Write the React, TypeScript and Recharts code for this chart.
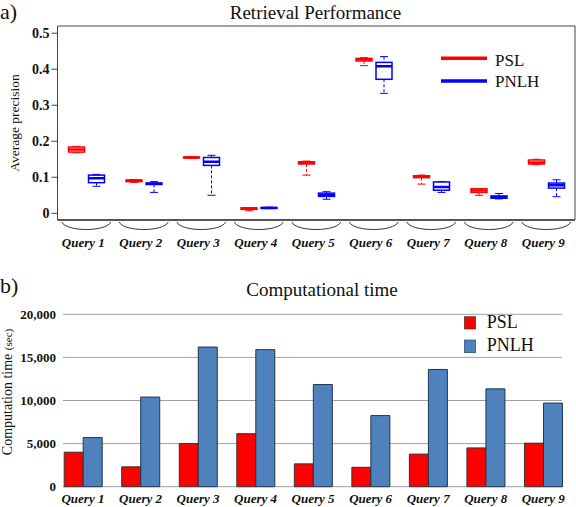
import React from 'react';
import {
  ComposedChart, BarChart, Bar, XAxis, YAxis, CartesianGrid, Legend,
} from 'recharts';

const queries = ['Query 1', 'Query 2', 'Query 3', 'Query 4', 'Query 5', 'Query 6', 'Query 7', 'Query 8', 'Query 9'];

// Retrieval performance (average precision) box-plot statistics
const pslMin = [0.168, 0.086, 0.153, 0.007, 0.106, 0.410, 0.081, 0.050, 0.135];
const pslQ1 = [0.170, 0.088, 0.154, 0.011, 0.137, 0.423, 0.099, 0.058, 0.137];
const pslMed = [0.177, 0.091, 0.155, 0.013, 0.140, 0.427, 0.102, 0.063, 0.141];
const pslQ3 = [0.184, 0.092, 0.156, 0.015, 0.143, 0.430, 0.104, 0.068, 0.148];
const pslMax = [0.186, 0.093, 0.157, 0.016, 0.145, 0.432, 0.106, 0.069, 0.150];

const pnlhMin = [0.075, 0.058, 0.050, 0.013, 0.039, 0.333, 0.058, 0.040, 0.046];
const pnlhQ1 = [0.085, 0.080, 0.133, 0.014, 0.047, 0.372, 0.064, 0.042, 0.070];
const pnlhMed = [0.097, 0.082, 0.143, 0.015, 0.051, 0.408, 0.073, 0.045, 0.078];
const pnlhQ3 = [0.106, 0.084, 0.155, 0.016, 0.056, 0.419, 0.087, 0.048, 0.084];
const pnlhMax = [0.108, 0.088, 0.161, 0.017, 0.060, 0.435, 0.088, 0.055, 0.093];

const precisionTicks = [0, 0.1, 0.2, 0.3, 0.4, 0.5];

// Computational time (sec)
const pslTime = [4000, 2300, 5000, 6150, 2650, 2250, 3780, 4500, 5050];
const pnlhTime = [5700, 10400, 16200, 15900, 11850, 8250, 13600, 11350, 9700];
const timeTicks = [0, 5000, 10000, 15000, 20000];

const FONT = '"Liberation Serif", "Times New Roman", serif';
const RED = '#FF0000';
const BLUE = '#0000FF';
const BAR_RED = '#FF0000';
const BAR_BLUE = '#4F81BD';

const boxRows = queries.map((q, i) => ({
  q,
  psl: [pslMin[i], pslQ1[i], pslMed[i], pslQ3[i], pslMax[i]],
  pnlh: [pnlhMin[i], pnlhQ1[i], pnlhMed[i], pnlhQ3[i], pnlhMax[i]],
}));

const timeRows = queries.map((q, i) => ({ q, psl: pslTime[i], pnlh: pnlhTime[i] }));

function BoxShape(props: any) {
  const { x, y, width, height, stats, color } = props;
  if (x == null || y == null || !stats) return null;
  const [mn, q1, md, q3, mx] = stats;
  const top = Math.min(y, y + height);
  const h = Math.abs(height);
  const py = (v: number) => (mx === mn ? top : top + (h * (mx - v)) / (mx - mn));
  const cx = x + width / 2;
  const cap = 4;
  return (
    <g>
      <line x1={cx} x2={cx} y1={py(mx)} y2={py(q3)} stroke={color} strokeWidth={1} strokeDasharray="3 2" />
      <line x1={cx} x2={cx} y1={py(q1)} y2={py(mn)} stroke={color} strokeWidth={1} strokeDasharray="3 2" />
      <line x1={cx - cap} x2={cx + cap} y1={py(mx)} y2={py(mx)} stroke={color} strokeWidth={1} />
      <line x1={cx - cap} x2={cx + cap} y1={py(mn)} y2={py(mn)} stroke={color} strokeWidth={1} />
      <rect x={x} y={py(q3)} width={width} height={Math.max(py(q1) - py(q3), 0.5)} fill="#fff" stroke={color} strokeWidth={1.5} />
      <line x1={x} x2={x + width} y1={py(md)} y2={py(md)} stroke={color} strokeWidth={2.5} />
    </g>
  );
}

function ArcTick(props: any) {
  const { x, y, payload } = props;
  return (
    <g>
      <path
        d={`M ${x - 24.5} ${y + 2} C ${x - 20} ${y + 12} ${x + 20} ${y + 12} ${x + 24.5} ${y + 2}`}
        fill="none"
        stroke="#333"
        strokeWidth={1}
      />
      <text x={x - 3} y={y + 26.5} textAnchor="middle" fontFamily={FONT} fontSize={13} fontWeight="bold" fontStyle="italic" fill="#111">
        {payload.value}
      </text>
    </g>
  );
}

function TopLegend() {
  return (
    <svg width={130} height={50} style={{ display: 'block' }}>
      <line x1={3} x2={49} y1={13.3} y2={13.3} stroke={RED} strokeWidth={3.5} />
      <text x={57} y={20.7} fontFamily={FONT} fontSize={17} fill="#111">PSL</text>
      <line x1={3} x2={49} y1={36} y2={36} stroke={BLUE} strokeWidth={3.5} />
      <text x={57} y={42.3} fontFamily={FONT} fontSize={17} fill="#111">PNLH</text>
    </svg>
  );
}

function BottomLegend() {
  return (
    <svg width={100} height={50} style={{ display: 'block' }}>
      <rect x={4.3} y={6.7} width={11.4} height={12.3} fill={BAR_RED} stroke="#333" strokeWidth={0.6} />
      <text x={26.7} y={17.7} fontFamily={FONT} fontSize={18} fill="#111">PSL</text>
      <rect x={4.3} y={30} width={11.4} height={12.7} fill={BAR_BLUE} stroke="#2a3f5f" strokeWidth={0.6} />
      <text x={26.7} y={40.7} fontFamily={FONT} fontSize={18} fill="#111">PNLH</text>
    </svg>
  );
}

const fmtPrecision = (v: number) => (v === 0 ? '0' : v.toFixed(1));
const fmtTime = (v: number) => v.toLocaleString('en-US');

export default function App() {
  return (
    <div style={{ position: 'absolute', left: 0, top: 0, width: 576, height: 507, background: '#fff', fontFamily: FONT }}>
      <div style={{ position: 'absolute', left: 0, top: 0 }}>
        <ComposedChart width={576} height={255} data={boxRows} margin={{ top: 26, right: 1, bottom: 0, left: 0 }} barSize={16} barGap={4}>
          <CartesianGrid
            stroke="#444"
            strokeWidth={1}
            horizontalCoordinatesGenerator={({ offset }: any) => [offset.top]}
            verticalCoordinatesGenerator={({ offset }: any) => [offset.left + offset.width]}
          />
          <XAxis
            dataKey="q"
            height={35}
            axisLine={{ stroke: '#555', strokeWidth: 2 }}
            tickLine={false}
            tickSize={0}
            tickMargin={0}
            interval={0}
            tick={(p: any) => <ArcTick {...p} />}
          />
          <YAxis
            width={57.5}
            domain={[-0.0186, 0.52]}
            ticks={precisionTicks}
            allowDataOverflow
            tickFormatter={fmtPrecision}
            axisLine={{ stroke: '#444' }}
            tickLine={{ stroke: '#444' }}
            tickSize={6}
            tickMargin={2}
            tick={{ fontFamily: FONT, fontSize: 14, fontWeight: 'bold', fill: '#111' }}
          />
          <Legend
            layout="vertical"
            align="center"
            verticalAlign="middle"
            wrapperStyle={{ left: 438, top: 45, width: 130, height: 50 }}
            content={() => <TopLegend />}
          />
          <Bar
            name="PSL"
            dataKey={(d: any) => [d.psl[0], d.psl[4]]}
            isAnimationActive={false}
            fill={RED}
            shape={(p: any) => <BoxShape {...p} stats={p.payload.psl} color={RED} />}
          />
          <Bar
            name="PNLH"
            dataKey={(d: any) => [d.pnlh[0], d.pnlh[4]]}
            isAnimationActive={false}
            fill={BLUE}
            shape={(p: any) => <BoxShape {...p} stats={p.payload.pnlh} color={BLUE} />}
          />
        </ComposedChart>
      </div>

      <div style={{ position: 'absolute', left: 0, top: 300 }}>
        <BarChart width={576} height={207} data={timeRows} margin={{ top: 14.3, right: 14, bottom: 0, left: 0 }} barSize={19} barGap={0}>
          <CartesianGrid vertical={false} stroke="#a0a0a0" />
          <XAxis
            dataKey="q"
            height={20.3}
            axisLine={false}
            tickLine={false}
            tickSize={0}
            tickMargin={7}
            interval={0}
            padding={{ left: -8.8, right: -10 }}
            tick={{ fontFamily: FONT, fontSize: 13, fontWeight: 'bold', fontStyle: 'italic', fill: '#111' }}
          />
          <YAxis
            width={63}
            domain={[0, 20000]}
            ticks={timeTicks}
            tickFormatter={fmtTime}
            axisLine={false}
            tickLine={false}
            tickSize={0}
            tickMargin={7}
            tick={{ fontFamily: FONT, fontSize: 13, fontWeight: 'bold', fill: '#111' }}
          />
          <Legend
            layout="vertical"
            align="center"
            verticalAlign="middle"
            wrapperStyle={{ left: 460, top: 10, width: 100, height: 50 }}
            content={() => <BottomLegend />}
          />
          <Bar name="PSL" dataKey="psl" fill={BAR_RED} stroke="#333" strokeWidth={1} isAnimationActive={false} />
          <Bar name="PNLH" dataKey="pnlh" fill={BAR_BLUE} stroke="#22354f" strokeWidth={1} isAnimationActive={false} />
        </BarChart>
      </div>

      <svg width={576} height={507} style={{ position: 'absolute', left: 0, top: 0, pointerEvents: 'none' }}>
        <text x={0} y={18.5} fontFamily={FONT} fontSize={22} fill="#111">a)</text>
        <text x={315.5} y={19} textAnchor="middle" fontFamily={FONT} fontSize={19} fill="#111">Retrieval Performance</text>
        <text transform="translate(19,123) rotate(-90)" textAnchor="middle" fontFamily={FONT} fontSize={13.5} fill="#111">Average precision</text>
        <text x={0} y={293.3} fontFamily={FONT} fontSize={22} fill="#111">b)</text>
        <text x={322} y={295.7} textAnchor="middle" fontFamily={FONT} fontSize={19} fill="#111">Computational time</text>
        <text transform="translate(11.5,392) rotate(-90)" textAnchor="middle" fontFamily={FONT} fontSize={14} fill="#111">
          Computation time <tspan fontSize={11}>(sec)</tspan>
        </text>
      </svg>
    </div>
  );
}
